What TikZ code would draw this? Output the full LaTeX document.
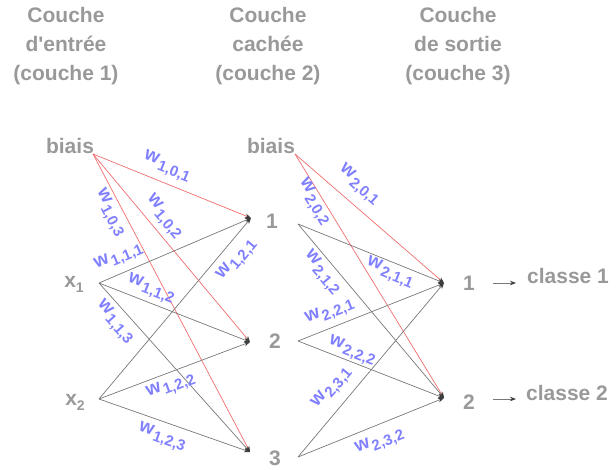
\documentclass[tikz,border=0pt]{standalone}
\usepackage{fontspec}
\setmainfont{Liberation Sans}
\usetikzlibrary{arrows.meta}
\definecolor{txtgray}{RGB}{153,153,153}
\definecolor{wblue}{RGB}{128,128,255}
\definecolor{lred}{RGB}{240,110,110}
\definecolor{lgray}{RGB}{120,120,120}
\definecolor{tipcol}{RGB}{60,60,60}
\newcommand{\wlab}[1]{{\fontsize{19}{19}\selectfont w}\hspace{1.5pt}\raisebox{-5pt}{\fontsize{15}{15}\selectfont #1}}
\begin{document}
\begin{tikzpicture}[x=1pt,y=-1pt,
  hdr/.style={font=\bfseries\fontsize{21}{29}\selectfont, text=txtgray, align=center, anchor=north, inner sep=0pt},
  lbl/.style={font=\bfseries\fontsize{21}{25}\selectfont, text=txtgray, anchor=base, inner sep=0pt},
  wl/.style={font=\bfseries, text=wblue, inner sep=0pt},
  conn/.style={draw=lgray, line width=0.7pt, -{Stealth[length=6pt,width=4.5pt,color=tipcol]}},
  bconn/.style={conn, draw=lred},
]
\useasboundingbox (0,0) rectangle (616,469);

% headers
\node[hdr] (h1) at (66,7.5) {Couche\\d\textquotesingle entrée\\(couche 1)};
\node[hdr] (h2) at (268,7.5) {Couche\\cachée\\(couche 2)};
\node[hdr] (h3) at (458,7.5) {Couche\\de sortie\\(couche 3)};

% text labels
\node[lbl] (tb1) at (70,153) {biais};
\node[lbl] (tx1) at (74,287) {x\raisebox{-5pt}{\fontsize{14}{14}\selectfont 1}};
\node[lbl] (tx2) at (75,405) {x\raisebox{-5pt}{\fontsize{14}{14}\selectfont 2}};
\node[lbl] (tb2) at (271,153) {biais};
\node[lbl] (th1) at (272,228) {1};
\node[lbl] (th2) at (275,348) {2};
\node[lbl] (th3) at (275,465) {3};
\node[lbl] (to1) at (469,290) {1};
\node[lbl] (to2) at (469,409) {2};
\node[lbl, anchor=base west] (tc1) at (527,283) {classe 1};
\node[lbl, anchor=base west] (tc2) at (526,400) {classe 2};

% connection points
\coordinate (b1) at (93,154);
\coordinate (x1) at (99,283);
\coordinate (x2) at (99,399);
\coordinate (h1in) at (251,218);
\coordinate (h2in) at (250,342);
\coordinate (h3in) at (250,452);
\coordinate (b2) at (295,154);
\coordinate (h1o) at (298,224);
\coordinate (h2o) at (298,341);
\coordinate (h3o) at (298,457);
\coordinate (o1) at (444,283);
\coordinate (o2) at (444,398);
\coordinate (c1s) at (493,283);
\coordinate (c1e) at (516,283);
\coordinate (c2s) at (493,399);
\coordinate (c2e) at (516,399);

% layer 1 -> 2
\draw[bconn] (b1) -- (h1in);
\draw[bconn] (b1) -- (h2in);
\draw[bconn] (b1) -- (h3in);
\draw[conn] (x1) -- (h1in);
\draw[conn] (x1) -- (h2in);
\draw[conn] (x1) -- (h3in);
\draw[conn] (x2) -- (h1in);
\draw[conn] (x2) -- (h2in);
\draw[conn] (x2) -- (h3in);
% layer 2 -> 3
\draw[bconn] (b2) -- (o1);
\draw[bconn] (b2) -- (o2);
\draw[conn] (h1o) -- (o1);
\draw[conn] (h1o) -- (o2);
\draw[conn] (h2o) -- (o1);
\draw[conn] (h2o) -- (o2);
\draw[conn] (h3o) -- (o1);
\draw[conn] (h3o) -- (o2);
% outputs
\draw[conn] (c1s) -- (c1e);
\draw[conn] (c2s) -- (c2e);

% weight labels
\node[wl, rotate=-22.0] (w101) at (167,167) {\wlab{1,0,1}};
\node[wl, rotate=-50.1] (w102) at (164,217) {\wlab{1,0,2}};
\node[wl, rotate=-62.2] (w103) at (110,213) {\wlab{1,0,3}};
\node[wl, rotate=23.2] (w111) at (119,257) {\wlab{1,1,1}};
\node[wl, rotate=-21.3] (w112) at (151,289) {\wlab{1,1,2}};
\node[wl, rotate=-48.2] (w113) at (115,322) {\wlab{1,1,3}};
\node[wl, rotate=50.0] (w121) at (237,260) {\wlab{1,2,1}};
\node[wl, rotate=20.7] (w122) at (171,386) {\wlab{1,2,2}};
\node[wl, rotate=-19.3] (w123) at (162,437) {\wlab{1,2,3}};
\node[wl, rotate=-40.9] (w201) at (359,185) {\wlab{2,0,1}};
\node[wl, rotate=-58.6] (w202) at (314,202) {\wlab{2,0,2}};
\node[wl, rotate=-22.0] (w211) at (390,273) {\wlab{2,1,1}};
\node[wl, rotate=-50.0] (w212) at (322,273) {\wlab{2,1,2}};
\node[wl, rotate=21.7] (w221) at (330,312) {\wlab{2,2,1}};
\node[wl, rotate=-21.3] (w222) at (352,351) {\wlab{2,2,2}};
\node[wl, rotate=50.0] (w231) at (332,388) {\wlab{2,3,1}};
\node[wl, rotate=22.0] (w232) at (380,442) {\wlab{2,3,2}};
\end{tikzpicture}
\end{document}
